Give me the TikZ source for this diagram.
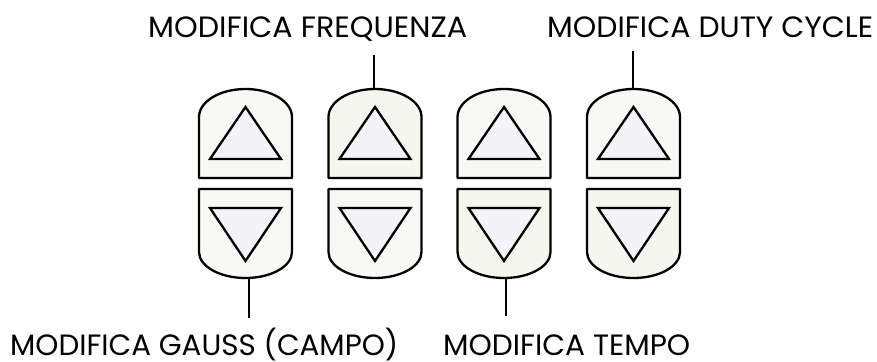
\documentclass[tikz,border=0pt]{standalone}
\usepackage{fontspec}
\setmainfont{Poppins}
\usepackage{graphicx}
\definecolor{shellfill}{HTML}{F8F8F6}
\definecolor{shellgreen}{HTML}{F5F6EE}
\definecolor{trifill}{HTML}{F3F3F8}
\newcommand\drawbtn[4]{%
  % #1 name, #2 centre x, #3 upper fill, #4 lower fill
  \path[shell,fill=#3] ({#2-46.5},178) -- ({#2-46.5},117)
    .. controls ({#2-46.5},101.54) and ({#2-25.68},89) .. ({#2},89)
    .. controls ({#2+25.68},89) and ({#2+46.5},101.54) .. ({#2+46.5},117)
    -- ({#2+46.5},178) -- cycle;
  \path[shell,fill=#4] ({#2-46.5},189) -- ({#2-46.5},252)
    .. controls ({#2-46.5},266.36) and ({#2-25.68},278) .. ({#2},278)
    .. controls ({#2+25.68},278) and ({#2+46.5},266.36) .. ({#2+46.5},252)
    -- ({#2+46.5},189) -- cycle;
  \path[tri] ({#2-35.5},159) -- ({#2},107) -- ({#2+35.5},159) -- cycle;
  \path[tri] ({#2-35.5},208) -- ({#2+35.5},208) -- ({#2},261) -- cycle;
}
% text fitted to a given width, with its capital height fixed
\newcommand\capfit[2]{\resizebox{#1}{20.5pt}{\smash{#2}\rule{0pt}{\fontcharht\font`H}}}
\begin{document}
\begin{tikzpicture}[x=1pt,y=-1pt,
  shell/.style={draw=black, line width=2.3pt, line join=round},
  tri/.style={draw=black, line width=2.3pt, fill=trifill, line join=miter},
  lead/.style={draw=black, line width=1.7pt},
  lbl/.style={inner sep=0pt, anchor=base west, font=\fontsize{20}{22}\selectfont}]
\useasboundingbox (0,0) rectangle (877,361);
\fill[white] (0,0) rectangle (877,361);

\drawbtn{b1}{245.5}{shellfill}{shellfill}
\drawbtn{b2}{375}{shellgreen}{shellfill}
\drawbtn{b3}{504}{shellfill}{shellgreen}
\drawbtn{b4}{633.5}{shellfill}{shellgreen}

\coordinate (b2top) at (374,89);
\coordinate (b4top) at (633,89);
\coordinate (b1bot) at (249,278);
\coordinate (b3bot) at (506,278);
\coordinate (e2) at (374,55);
\coordinate (e4) at (633,51);
\coordinate (e1) at (249,318);
\coordinate (e3) at (506,316);

\node[lbl] (lfreq) at (148,37.5) {\capfit{319pt}{MODIFICA FREQUENZA}};
\node[lbl] (lduty) at (547,37.5) {\capfit{326pt}{MODIFICA DUTY CYCLE}};
\node[lbl] (lgauss) at (10,355.5) {\capfit{388pt}{MODIFICA GAUSS (CAMPO)}};
\node[lbl] (ltempo) at (443,355.5) {\capfit{247pt}{MODIFICA TEMPO}};

\draw[lead] (b2top) -- (e2);
\draw[lead] (b4top) -- (e4);
\draw[lead] (b1bot) -- (e1);
\draw[lead] (b3bot) -- (e3);
\end{tikzpicture}
\end{document}
